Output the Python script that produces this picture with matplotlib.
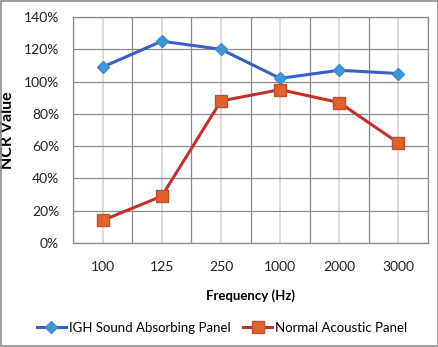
import numpy as np
import matplotlib.pyplot as plt
from matplotlib.patches import Rectangle
from matplotlib.ticker import PercentFormatter, MultipleLocator

# NCR per frequency band
frequencies = ['100', '125', '250', '1000', '2000', '3000']
igh_panel = [109, 125, 120, 102, 107, 105]
normal_panel = [14, 29, 88, 95, 87, 62]

plt.rcParams['font.family'] = ['Lato', 'DejaVu Sans']

fig = plt.figure(figsize=(4.39, 3.47), dpi=100)
fig.patches.append(Rectangle((0.002, 0.003), 0.995, 0.994, transform=fig.transFigure,
                             fill=False, edgecolor='#8c8c8c', linewidth=1.2))
ax = fig.add_axes([0.1663, 0.2997, 0.8087, 0.6513])

x = np.arange(len(frequencies))
ax.set_xlim(-0.5, len(frequencies) - 0.5)
ax.set_ylim(0, 140)

# grid: dark lines on category edges, light ones through the centres
for b in np.arange(-0.5, len(frequencies), 1.0):
    ax.axvline(b, color='#8a8a8a', linewidth=0.9, zorder=0)
for c in x:
    ax.axvline(c, color='#d4d4d4', linewidth=1.2, zorder=0)
ax.yaxis.set_major_locator(MultipleLocator(20))
ax.grid(axis='y', color='#8a8a8a', linewidth=0.9, zorder=0)

ax.plot(x, igh_panel, color='#3a5fc8', linewidth=2.2, marker='D', markersize=6,
        markerfacecolor='#3d97d6', markeredgecolor='#3d8ad0', label='IGH Sound Absorbing Panel', zorder=3)
ax.plot(x, normal_panel, color='#c4302c', linewidth=2.2, marker='s', markersize=8.5,
        markerfacecolor='#e0622a', markeredgecolor='#c0502a', label='Normal Acoustic Panel', zorder=3)

ax.set_xticks(x, frequencies)
ax.yaxis.set_major_formatter(PercentFormatter(decimals=0))
ax.tick_params(length=0, labelsize=10, colors='#222222')
ax.tick_params(axis='x', pad=13)
ax.tick_params(axis='y', pad=10)
for s in ax.spines.values():
    s.set_color('#8a8a8a')
    s.set_linewidth(0.9)

ax.set_xlabel('Frequency (Hz)', fontsize=9.5, fontweight='bold', labelpad=12)
ax.set_ylabel('NCR Value', fontsize=11.5, fontweight='bold', labelpad=6)

ax.legend(loc='upper center', bbox_to_anchor=(0.42, -0.295), ncol=2, frameon=False,
          fontsize=9.5, handlelength=2.2, columnspacing=1.0, handletextpad=0.2)

fig.savefig('out.png', dpi=100)
